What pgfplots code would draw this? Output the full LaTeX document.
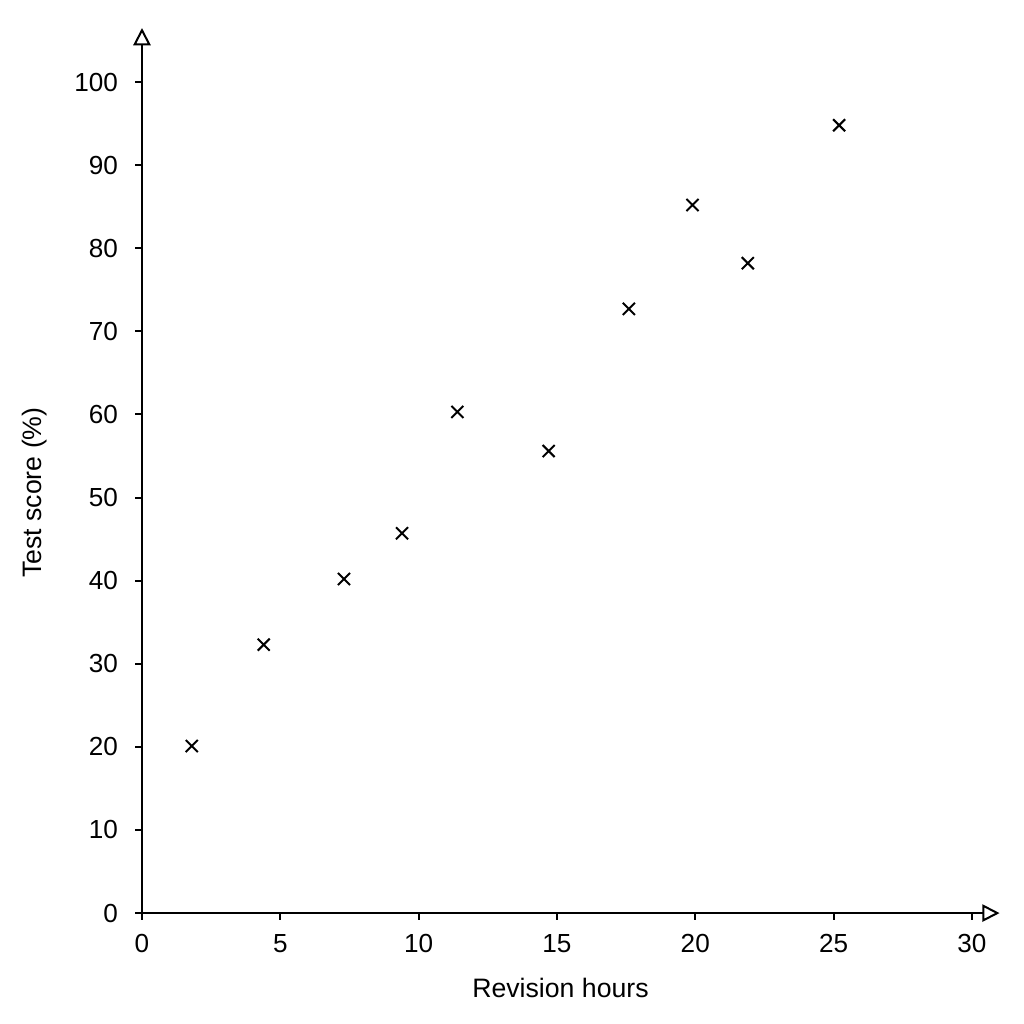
\documentclass[border=0pt]{standalone}
\usepackage{pgfplots}
\pgfplotsset{compat=1.18}
\usepackage{fontspec}
\setmainfont{Liberation Sans}
\usetikzlibrary{arrows.meta}
\begin{document}
\begin{tikzpicture}
\useasboundingbox (-53.25pt,-41.6pt) rectangle (330.75pt,342.4pt);
\begin{axis}[
  at={(0pt,0pt)}, anchor=origin,
  scale only axis,
  width=321.6pt, height=331.9pt,
  xmin=0, xmax=31.0, ymin=0, ymax=106.5,
  axis lines=left,
  axis line style={line width=0.75pt, -{Triangle[open, length=6.5pt, width=6.5pt]}},
  xtick={0,5,...,30}, ytick={0,10,...,100},
  tick align=outside,
  major tick length=2.5pt,
  tick style={line width=0.75pt, black},
  /pgf/number format/assume math mode=true,
  tick label style={font=\fontsize{9.8}{11}\selectfont},
  xticklabel style={yshift=-2pt},
  yticklabel style={xshift=-3pt},
  label style={font=\fontsize{10}{12}\selectfont},
  xlabel={Revision hours},
  ylabel={Test score (\%)},
  xlabel style={at={(axis description cs:0.488,0)}, anchor=north, yshift=-21pt},
  ylabel style={at={(axis description cs:0,0.475)}, anchor=south, yshift=32pt},
  clip=false,
]
\addplot[only marks, mark=x, mark size=3.2pt, line width=0.75pt, black] coordinates {
(1.8,20.1) (4.4,32.3) (7.3,40.2) (9.4,45.7) (11.4,60.3) (14.7,55.6)
(17.6,72.7) (19.9,85.2) (21.9,78.2) (25.2,94.8)
};
\end{axis}
\end{tikzpicture}
\end{document}
